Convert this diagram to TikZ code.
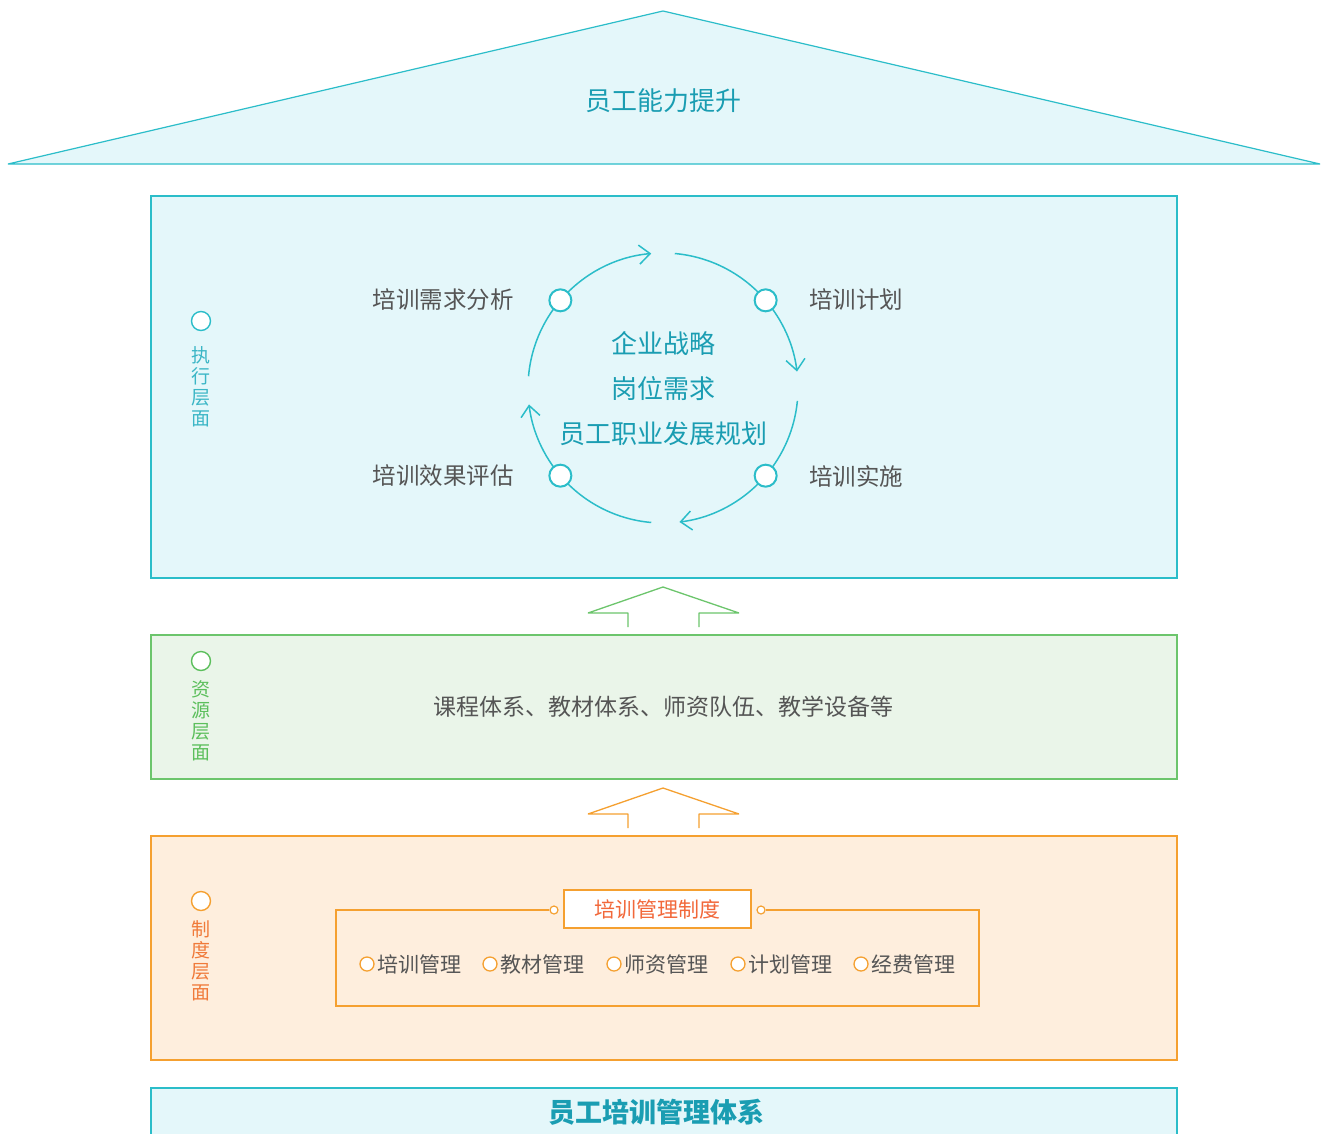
\documentclass[tikz,border=0pt]{standalone}
\usepackage{fontspec}
\setmainfont{Noto Sans CJK SC}
\usetikzlibrary{arrows.meta,calc}
\definecolor{tealline}{HTML}{2BBDC9}
\definecolor{tealfill}{HTML}{E4F7FA}
\definecolor{tealtext}{HTML}{1A9DB2}
\definecolor{sideteal}{HTML}{3BB6C6}
\definecolor{greenline}{HTML}{6CC56C}
\definecolor{greenfill}{HTML}{EAF5E9}
\definecolor{greentext}{HTML}{5CBF5C}
\definecolor{orangeline}{HTML}{F5A030}
\definecolor{orangefill}{HTML}{FEEEDD}
\definecolor{orangetext}{HTML}{F07A3A}
\definecolor{redorange}{HTML}{F2683A}
\definecolor{graytext}{HTML}{555555}
\tikzset{
  panel/.style={line width=1.2pt},
  sidecirc/.style={circle, draw, fill=white, line width=1.4pt, minimum size=19pt, inner sep=0pt},
  sidetext/.style={align=center, font=\fontsize{19}{21}\selectfont, inner sep=0pt},
  cyclenode/.style={circle, draw=tealline, fill=white, line width=2pt, minimum size=22pt, inner sep=0pt},
  cyclearc/.style={draw=tealline, line width=1.5pt},
  arrowed/.style={-{Straight Barb[length=11pt,width=19pt,line width=1.5pt]}},
  steplabel/.style={text=graytext, font=\fontsize{23.5}{26}\selectfont, inner sep=0pt},
  centertext/.style={text=tealtext, font=\fontsize{26}{30}\selectfont, inner sep=0pt},
  itemcirc/.style={circle, draw=orangeline, fill=white, line width=1.3pt, minimum size=14pt, inner sep=0pt},
  itemtext/.style={text=graytext, font=\fontsize{21}{24}\selectfont, inner sep=0pt, anchor=west},
  dotend/.style={circle, draw=orangeline, fill=white, line width=1.2pt, minimum size=8pt, inner sep=0pt},
  uparrow/.style={line width=1.3pt, line join=bevel}
}
\begin{document}
\begin{tikzpicture}[x=1pt,y=-1pt]
\useasboundingbox (0,0) rectangle (1322,1133);
\fill[white] (0,0) rectangle (1322,1133);

% roof
\filldraw[fill=tealfill, draw=tealline, line width=1.2pt, line join=bevel] (8,164) -- (663,11) -- (1320,164) -- cycle;
\node[centertext] (roof) at (663,101) {员工能力提升};

% execution panel
\filldraw[panel, fill=tealfill, draw=tealline] (151,196) rectangle (1177,578);
\node[sidecirc, draw=tealline] (c1) at (201,321) {};
\node[sidetext, text=sideteal, anchor=north] (t1) at (201,346) {执\\行\\层\\面};

% cycle
\coordinate (cc) at (663,388);
\node[centertext] (cA) at (663,344) {企业战略};
\node[centertext] (cB) at (663,389) {岗位需求};
\node[centertext] (cC) at (663,434) {员工职业发展规划};

\draw[cyclearc, arrowed] ($(cc)+(-139.5:135)$) arc[start angle=-139.5, end angle=-95, radius=135];
\draw[cyclearc] ($(cc)+(-85:135)$) arc[start angle=-85, end angle=-40.5, radius=135];
\draw[cyclearc, arrowed] ($(cc)+(-40.5:135)$) arc[start angle=-40.5, end angle=-7, radius=135];
\draw[cyclearc] ($(cc)+(5.5:135)$) arc[start angle=5.5, end angle=40.5, radius=135];
\draw[cyclearc, arrowed] ($(cc)+(40.5:135)$) arc[start angle=40.5, end angle=83, radius=135];
\draw[cyclearc] ($(cc)+(95:135)$) arc[start angle=95, end angle=139.5, radius=135];
\draw[cyclearc, arrowed] ($(cc)+(139.5:135)$) arc[start angle=139.5, end angle=173, radius=135];
\draw[cyclearc] ($(cc)+(185:135)$) arc[start angle=185, end angle=220.5, radius=135];

\node[cyclenode] (n1) at ($(cc)+(-139.5:135)$) {};
\node[cyclenode] (n2) at ($(cc)+(-40.5:135)$) {};
\node[cyclenode] (n3) at ($(cc)+(40.5:135)$) {};
\node[cyclenode] (n4) at ($(cc)+(139.5:135)$) {};

\node[steplabel, anchor=east] (s1) at (514,300) {培训需求分析};
\node[steplabel, anchor=west] (s2) at (809,300) {培训计划};
\node[steplabel, anchor=west] (s3) at (809,476) {培训实施};
\node[steplabel, anchor=east] (s4) at (514,476) {培训效果评估};

% green up arrow
\draw[uparrow, draw=greenline] (628,627) -- (628,613) -- (588,613) -- (663,587) -- (739,613) -- (699,613) -- (699,627);

% resource panel
\filldraw[panel, fill=greenfill, draw=greenline] (151,635) rectangle (1177,779);
\node[sidecirc, draw=greentext] (c2) at (201,661) {};
\node[sidetext, text=greentext, anchor=north] (t2) at (201,680) {资\\源\\层\\面};
\node[steplabel, font=\fontsize{23}{26}\selectfont] (res) at (663,707) {课程体系、教材体系、师资队伍、教学设备等};

% orange up arrow
\draw[uparrow, draw=orangeline] (628,828) -- (628,814) -- (588,814) -- (663,788) -- (739,814) -- (699,814) -- (699,828);

% system panel
\filldraw[panel, fill=orangefill, draw=orangeline] (151,836) rectangle (1177,1060);
\node[sidecirc, draw=orangeline] (c3) at (201,901) {};
\node[sidetext, text=orangetext, anchor=north] (t3) at (201,920) {制\\度\\层\\面};

\node[dotend] (dl) at (554,910) {};
\node[dotend] (dr) at (761,910) {};
\draw[orangeline, line width=1.2pt, line join=miter] (dl) -- (336,910) -- (336,1006) -- (979,1006) -- (979,910) -- (dr);
\node[draw=orangeline, fill=white, line width=1.2pt, minimum width=187pt, minimum height=38pt, inner sep=0pt, text=redorange, font=\fontsize{21}{24}\selectfont] (title) at (657.5,909) {培训管理制度};

\foreach \x/\t [count=\i] in {367/培训管理, 490/教材管理, 614/师资管理, 738/计划管理, 861/经费管理}{
  \node[itemcirc] (ic\i) at (\x,964) {};
  \node[itemtext] (it\i) at (\x+10,964) {\t};
}

% base
\filldraw[panel, fill=tealfill, draw=tealline] (151,1088) rectangle (1177,1160);
\node[text=tealtext, font=\fontsize{27}{30}\selectfont\bfseries, inner sep=0pt] (base) at (656,1112) {员工培训管理体系};
\end{tikzpicture}
\end{document}
